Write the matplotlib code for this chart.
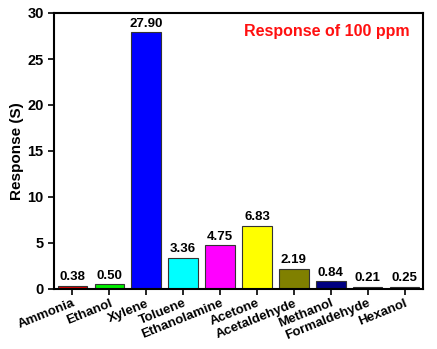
import matplotlib
matplotlib.use("Agg")
import matplotlib.pyplot as plt
import numpy as np

categories = ["Ammonia", "Ethanol", "Xylene", "Toluene", "Ethanolamine",
              "Acetone", "Acetaldehyde", "Methanol", "Formaldehyde", "Hexanol"]
values = [0.38, 0.50, 27.90, 3.36, 4.75, 6.83, 2.19, 0.84, 0.21, 0.25]
colors = ["#dd0000", "#00ee00", "#0000ff", "#00ffff", "#ff00ff",
          "#ffff00", "#808000", "#000080", "#800080", "#800000"]
value_labels = ["0.38", "0.50", "27.90", "3.36", "4.75", "6.83", "2.19", "0.84", "0.21", "0.25"]
yticks = [0, 5, 10, 15, 20, 25, 30]

plt.rcParams['font.family'] = ['Liberation Sans', 'DejaVu Sans']
plt.rcParams['font.weight'] = 'bold'

fig = plt.figure(figsize=(4.37, 3.49), dpi=100)
ax = fig.add_axes([54/437, 1 - 289/349, (423-54)/437, (289-13)/349])

x = np.arange(len(categories))
ax.bar(x, values, width=0.8, color=colors, edgecolor="#333333", linewidth=0.8)
for xi, v, lab in zip(x, values, value_labels):
    ax.text(xi, v + 0.3, lab, ha='center', va='bottom', fontsize=9.5, fontweight='bold')

ax.set_xlim(-0.5, len(categories) - 0.5)
ax.set_ylim(0, 30)
ax.set_yticks(yticks)
ax.set_yticklabels([str(t) for t in yticks], fontsize=10.5, fontweight='bold')
ax.set_xticks(x)
ax.set_xticklabels(categories, rotation=22, ha='right', rotation_mode='anchor',
                   fontsize=9.5, fontweight='bold')
ax.tick_params(direction='out', length=4, width=1.2)
ax.tick_params(axis='x', pad=2)
for s in ax.spines.values():
    s.set_linewidth(1.5)
ax.set_ylabel("Response (S)", fontsize=11, fontweight='bold', labelpad=2)
ax.text(0.965, 0.96, "Response of 100 ppm", transform=ax.transAxes, ha='right', va='top',
        color='#ff1010', fontsize=11.5, fontweight='bold')

fig.savefig("out.png", dpi=100)
